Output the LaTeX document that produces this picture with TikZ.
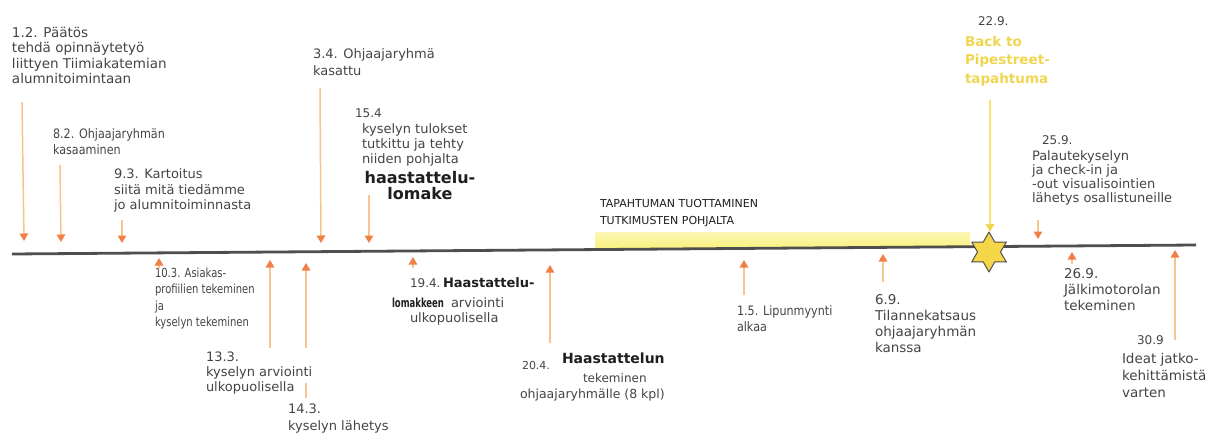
\documentclass[tikz,border=0pt]{standalone}
\usepackage{fontspec}
\setmainfont{DejaVu Sans}
\usetikzlibrary{arrows.meta}
\definecolor{pencil}{RGB}{68,68,68}
\definecolor{ink}{RGB}{30,30,30}
\definecolor{oline}{RGB}{246,196,140}
\definecolor{ohead}{RGB}{240,128,70}
\definecolor{ytext}{RGB}{240,214,78}
\definecolor{yline}{RGB}{244,228,110}
\definecolor{bandcol}{RGB}{249,240,120}
\definecolor{starfill}{RGB}{245,214,72}
\definecolor{axiscol}{RGB}{78,78,78}
\begin{document}
\begin{tikzpicture}[x=1pt,y=-1pt,
  txt/.style={font=\fontsize{13}{15.5}\selectfont, text=pencil, inner sep=0pt, outer sep=0pt, align=left, anchor=north west},
  ln/.style={font=\fontsize{#1}{#1}\selectfont, text=pencil, inner sep=0pt, outer sep=0pt, anchor=base west},
  bld/.style={font=\bfseries\fontsize{#1}{#1}\selectfont, text=ink, inner sep=0pt, outer sep=0pt, anchor=base west},
  caps/.style={font=\fontsize{11}{17}\selectfont, text=ink, inner sep=0pt, outer sep=0pt, align=left, anchor=north west},
  ybold/.style={font=\bfseries\fontsize{13.5}{18.5}\selectfont, text=ytext, inner sep=0pt, outer sep=0pt, align=left, anchor=north west},
  oarr/.style={draw=oline, line width=1.5pt, -{Triangle[width=8.5pt,length=7.5pt,color=ohead]}},
  oseg/.style={draw=oline, line width=1.5pt},
  yarr/.style={draw=yline, line width=1.5pt, -{Triangle[width=8.5pt,length=8pt,color=ytext]}},
  axisline/.style={draw=axiscol, line width=2.8pt},
  starstyle/.style={draw=axiscol, line width=1pt, fill=starfill, line join=round}
]
\useasboundingbox (0,0) rectangle (1219,444);

% band
\shade[top color=bandcol!55, bottom color=bandcol] (595,232) -- (970,232) -- (970,247) -- (595,250) -- cycle;

% timeline
\coordinate (L) at (12,254);
\coordinate (R) at (1196,245);
\draw[axisline] (L) -- (R);

% star
\draw[starstyle, shift={(989,252)}] (90:20) -- (120:11.5) -- (150:20) -- (180:11.5) -- (210:20) -- (240:11.5) -- (270:20) -- (300:11.5) -- (330:20) -- (0:11.5) -- (30:20) -- (60:11.5) -- cycle;

% ---------- top texts ----------
\node[txt, font=\fontsize{13.5}{15.5}\selectfont] (t12) at (12,27) {1.2. Päätös\\tehdä opinnäytetyö\\liittyen Tiimiakatemian\\alumnitoimintaan};
\node[txt, font=\fontsize{13}{16}\selectfont\addfontfeature{FakeStretch=0.86}] (t82) at (53,129) {8.2. Ohjaajaryhmän\\kasaaminen};
\node[txt] (t93) at (114,169) {9.3. Kartoitus\\siitä mitä tiedämme\\jo alumnitoiminnasta};
\node[txt, font=\fontsize{13}{17}\selectfont] (t34) at (313,49) {3.4. Ohjaajaryhmä\\kasattu};
\node[txt, font=\fontsize{12}{15}\selectfont] (t154d) at (355,109) {15.4};
\node[txt, font=\fontsize{13}{15}\selectfont] (t154) at (362,124) {kyselyn tulokset\\tutkittu ja tehty\\niiden pohjalta};
\node[font=\bfseries\fontsize{16}{16}\selectfont, text=ink, inner sep=0pt, align=center, anchor=north] (t154b) at (420,171) {haastattelu-\\lomake};
\node[caps] (tapa) at (600,199) {TAPAHTUMAN TUOTTAMINEN\\TUTKIMUSTEN POHJALTA};
\node[txt, font=\fontsize{12}{15}\selectfont] (t229) at (978,17) {22.9.};
\node[ybold] (t229b) at (965,36) {Back to\\Pipestreet-\\tapahtuma};
\node[txt, font=\fontsize{12}{14}\selectfont] (t259d) at (1042,136) {25.9.};
\node[txt, font=\fontsize{13}{14}\selectfont] (t259) at (1032,151) {Palautekyselyn\\ja check-in ja\\-out visualisointien\\lähetys osallistuneille};

% ---------- bottom texts ----------
\node[txt, font=\fontsize{12.5}{16.5}\selectfont\addfontfeature{FakeStretch=0.8}] (t103) at (155,268) {10.3. Asiakas-\\profiilien tekeminen\\ja\\kyselyn tekeminen};
\node[txt, font=\fontsize{13}{15}\selectfont] (t133) at (206,352) {13.3.\\kyselyn arviointi\\ulkopuolisella};
\node[txt, font=\fontsize{13}{17}\selectfont] (t143) at (288,404) {14.3.\\kyselyn lähetys};
\node[ln=12] (t194a) at (410,287) {19.4.};
\node[bld=13] (t194b) at (443,287) {Haastattelu-};
\node[bld=13, font=\bfseries\fontsize{12.5}{12.5}\selectfont\addfontfeature{FakeStretch=0.68}] (t194c) at (392,307) {lomakkeen};
\node[ln=13] (t194d) at (451,307) {arviointi};
\node[ln=13] (t194e) at (410,322) {ulkopuolisella};
\node[ln=11] (t204a) at (522,369) {20.4.};
\node[bld=14] (t204b) at (562,363) {Haastattelun};
\node[ln=12] (t204c) at (583,382) {tekeminen};
\node[ln=12.5] (t204d) at (520,398) {ohjaajaryhmälle (8 kpl)};
\node[txt, font=\fontsize{13}{16}\selectfont\addfontfeature{FakeStretch=0.86}] (t15) at (737,306) {1.5. Lipunmyynti\\alkaa};
\node[txt, font=\fontsize{13.5}{16}\selectfont] (t69) at (875,294) {6.9.\\Tilannekatsaus\\ohjaajaryhmän\\kanssa};
\node[txt, font=\fontsize{13.5}{16}\selectfont] (t269) at (1064,268) {26.9.\\Jälkimotorolan\\tekeminen};
\node[txt, font=\fontsize{12}{15}\selectfont] (t309d) at (1137,336) {30.9};
\node[txt, font=\fontsize{13.5}{17}\selectfont] (t309) at (1122,353) {Ideat jatko-\\kehittämistä\\varten};

% ---------- arrows: top (pointing down) ----------
\coordinate (a1s) at (22,102);   \coordinate (a1e) at (24,241);
\coordinate (a2s) at (60,165);   \coordinate (a2e) at (61,242);
\coordinate (a3s) at (122,220);  \coordinate (a3e) at (122,243);
\coordinate (a4s) at (320,88);   \coordinate (a4e) at (321,243);
\coordinate (a5s) at (369,195);  \coordinate (a5e) at (369,243);
\coordinate (a6s) at (990,100);  \coordinate (a6e) at (990,232);
\coordinate (a7s) at (1038,220); \coordinate (a7e) at (1038,239);
\draw[oarr] (a1s) -- (a1e);
\draw[oarr] (a2s) -- (a2e);
\draw[oarr] (a3s) -- (a3e);
\draw[oarr] (a4s) -- (a4e);
\draw[oarr] (a5s) -- (a5e);
\draw[yarr] (a6s) -- (a6e);
\draw[oarr] (a7s) -- (a7e);

% ---------- arrows: bottom (pointing up) ----------
\coordinate (b1s) at (159,269);  \coordinate (b1e) at (159,258);
\coordinate (b2s) at (270,348);  \coordinate (b2e) at (270,260);
\coordinate (b3s) at (306,348);  \coordinate (b3e) at (306,263);
\coordinate (b3a) at (306,383);  \coordinate (b3b) at (306,398);
\coordinate (b4s) at (413,268);  \coordinate (b4e) at (413,257);
\coordinate (b5s) at (550,343);  \coordinate (b5e) at (550,265);
\coordinate (b6s) at (744,295);  \coordinate (b6e) at (744,260);
\coordinate (b7s) at (883,282);  \coordinate (b7e) at (883,254);
\coordinate (b8s) at (1072,264); \coordinate (b8e) at (1072,252);
\coordinate (b9s) at (1175,340); \coordinate (b9e) at (1175,250);
\draw[oarr] (b1s) -- (b1e);
\draw[oarr] (b2s) -- (b2e);
\draw[oarr] (b3s) -- (b3e);
\draw[oseg] (b3a) -- (b3b);
\draw[oarr] (b4s) -- (b4e);
\draw[oarr] (b5s) -- (b5e);
\draw[oarr] (b6s) -- (b6e);
\draw[oarr] (b7s) -- (b7e);
\draw[oarr] (b8s) -- (b8e);
\draw[oarr] (b9s) -- (b9e);
\end{tikzpicture}
\end{document}
